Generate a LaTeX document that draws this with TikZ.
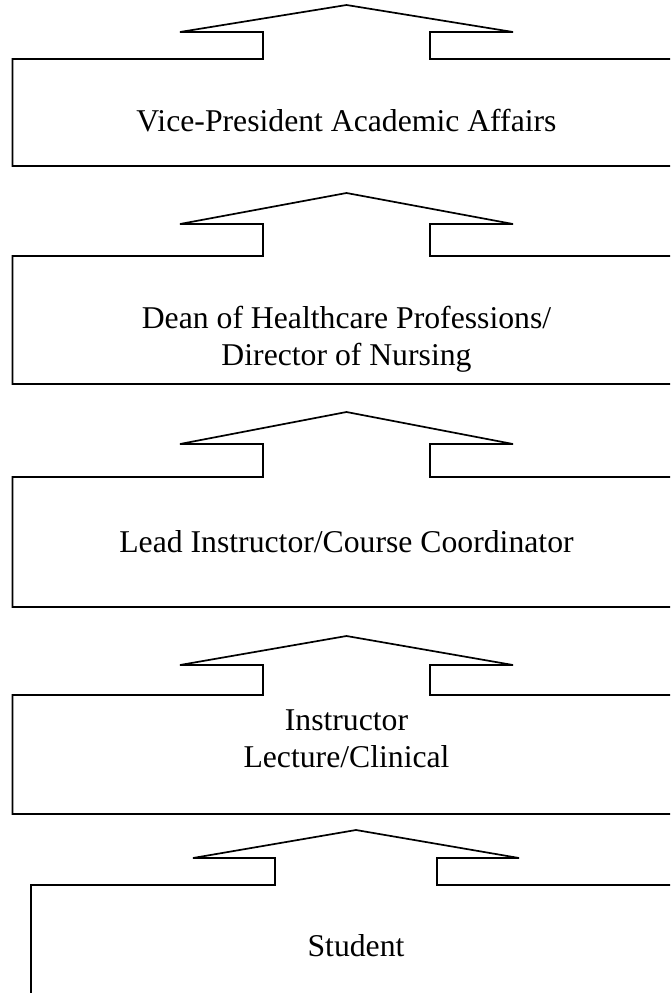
\documentclass[tikz,border=0pt]{standalone}
\usepackage{fontspec}
\setmainfont{Liberation Serif}
\begin{document}
\begin{tikzpicture}[x=1pt,y=-1pt,
  outline/.style={draw=black,line width=1.7pt,line join=miter},
  lbl/.style={font=\fontsize{31.7}{36.5}\selectfont,align=center,inner sep=0pt,anchor=base}]
\useasboundingbox (0,0) rectangle (670,993);
\clip (0,0) rectangle (670,993);
% #1 x-shift, #2 tip y, #3 head base y, #4 box top y, #5 box bottom y
\newcommand{\upcallout}[5]{%
  \draw[outline,xshift=#1] (12.5,#5) -- (12.5,#4) -- (263,#4) -- (263,#3) -- (180,#3)
    -- (346.5,#2) -- (513,#3) -- (430,#3) -- (430,#4) -- (690,#4) -- (690,#5) -- cycle;}
\upcallout{0}{5}{32}{59}{166}
\upcallout{0}{193}{224}{256}{384}
\upcallout{0}{412}{444}{477}{607}
\upcallout{0}{636}{665}{695}{814}
\draw[outline] (31,1010) -- (31,885) -- (275,885) -- (275,858) -- (193,858)
    -- (356,830) -- (519,858) -- (437,858) -- (437,885) -- (690,885) -- (690,1010);
\node[lbl] (vp) at (346.5,131) {Vice-President Academic Affairs};
\node[lbl] (dean) at (346.5,365) {Dean of Healthcare Professions/\\Director of Nursing};
\node[lbl] (lead) at (346.5,552) {Lead Instructor/Course Coordinator};
\node[lbl] (instr) at (346.5,767) {Instructor\\Lecture/Clinical};
\node[lbl] (student) at (356,956) {Student};
\end{tikzpicture}
\end{document}
